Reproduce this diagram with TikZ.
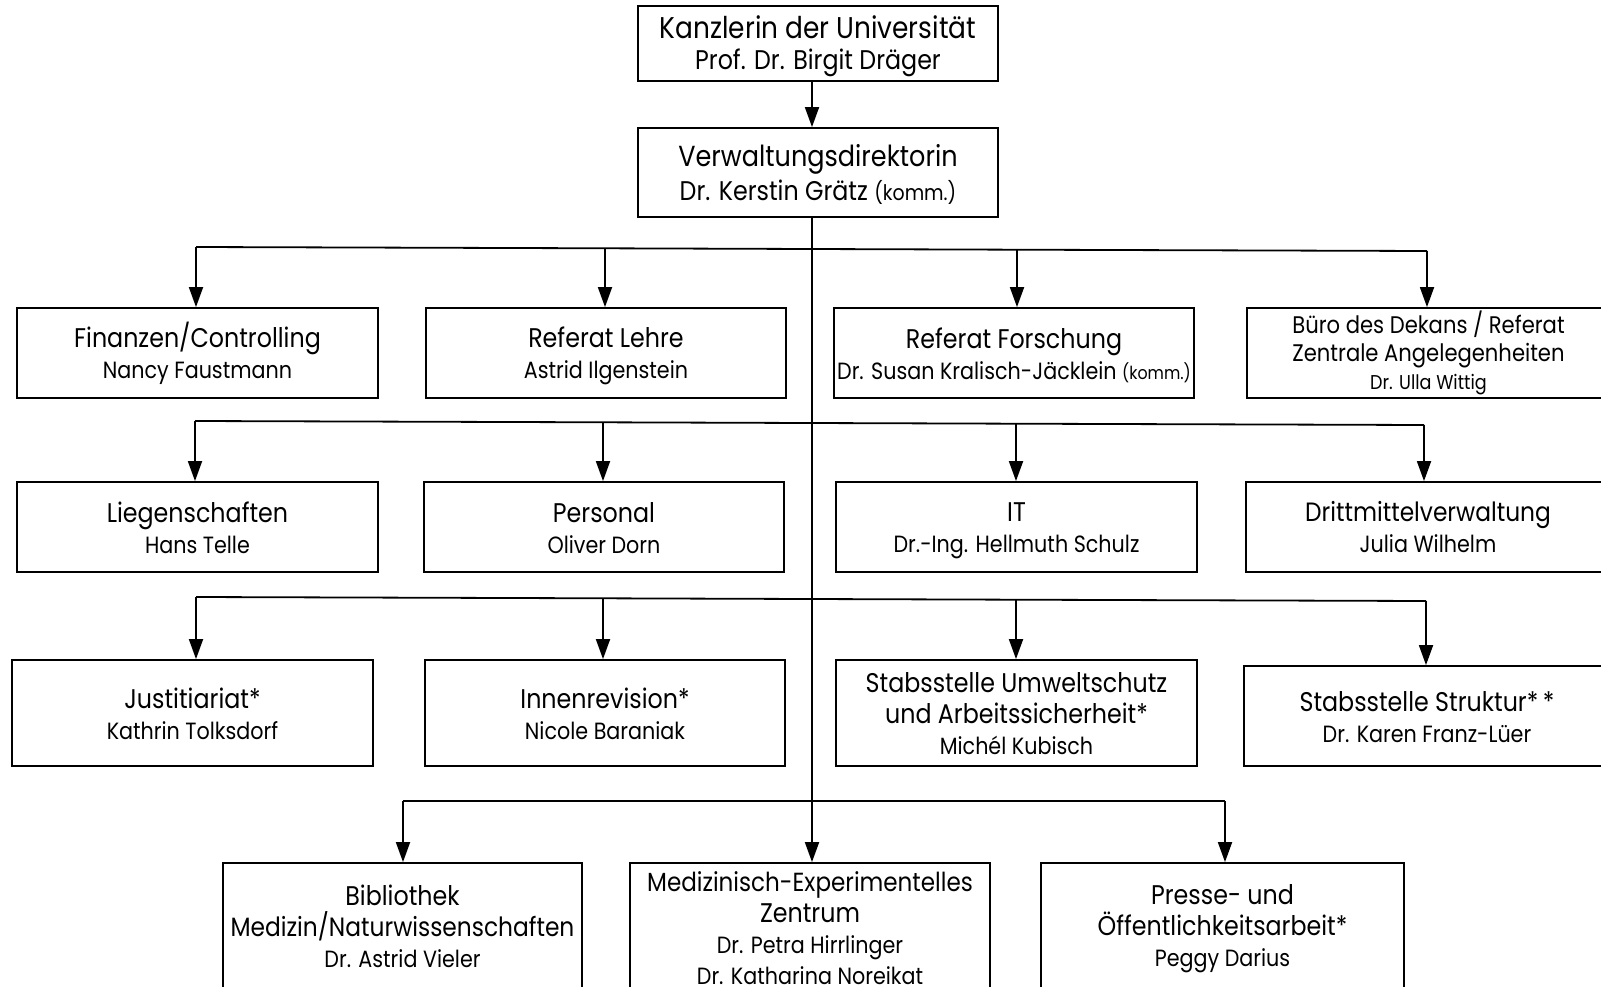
\documentclass[tikz,border=0pt]{standalone}
\usepackage{fontspec}
\setmainfont[FakeStretch=0.88]{Poppins}
\usetikzlibrary{arrows.meta}
\newcommand\fsA{\fontsize{30}{31}\selectfont}
\newcommand\fsB{\fontsize{27}{31}\selectfont}
\newcommand\fsC{\fontsize{23.5}{31}\selectfont}
\newcommand\fsD{\fontsize{18}{31}\selectfont}
\newcommand\ph{\vphantom{/}}
\begin{document}
\begin{tikzpicture}[x=1pt,y=-1pt,
  box/.style={draw, line width=1.8pt, rectangle, inner sep=0pt, align=center, font=\fsC},
  bus/.style={line width=1.8pt},
  arr/.style={line width=1.8pt, -{Triangle[length=20pt,width=14pt]}}]
\useasboundingbox (0,0) rectangle (1601,987);
\coordinate (main) at (812,0);
% top
\node[box, minimum width=360pt, minimum height=75pt] (k) at (818,43.5) {{\fsA\ph Kanzlerin der Universität}\\{\fsB\ph Prof. Dr. Birgit Dräger}};
\node[box, minimum width=360pt, minimum height=89pt] (vd) at (818,172.5) {{\fontsize{29}{31}\selectfont\ph Verwaltungsdirektorin}\\{\fsB\ph Dr. Kerstin Grätz {\fontsize{21.5}{31}\selectfont(komm.)}}};
% row 1
\node[box, minimum width=361pt, minimum height=90pt] (f1) at (197.5,353) {{\fsB\ph Finanzen/Controlling}\\\ph Nancy Faustmann};
\node[box, minimum width=360pt, minimum height=90pt] (f2) at (606,353) {{\fsB\ph Referat Lehre}\\\ph Astrid Ilgenstein};
\node[box, minimum width=360pt, minimum height=90pt] (f3) at (1014,353) {{\fsB\ph Referat Forschung}\\\ph Dr. Susan Kralisch-Jäcklein {\fsD(komm.)}};
\node[box, minimum width=363pt, minimum height=90pt, font=\fontsize{20}{28}\selectfont] (f4) at (1428.5,353) {{\fontsize{24}{28}\selectfont\ph Büro des Dekans / Referat}\\{\fontsize{24}{28}\selectfont Zentrale Angelegenheiten}\\\ph Dr. Ulla Wittig};
% row 2
\node[box, minimum width=361pt, minimum height=90pt] (g1) at (197.5,527) {{\fsB\ph Liegenschaften}\\\ph Hans Telle};
\node[box, minimum width=360pt, minimum height=90pt] (g2) at (604,527) {{\fsB\ph Personal}\\\ph Oliver Dorn};
\node[box, minimum width=361pt, minimum height=90pt] (g3) at (1016.5,527) {{\fsB\ph IT}\\\ph Dr.-Ing. Hellmuth Schulz};
\node[box, minimum width=364pt, minimum height=90pt] (g4) at (1428,527) {{\fontsize{26.5}{31}\selectfont\ph Drittmittelverwaltung}\\\ph Julia Wilhelm};
% row 3
\node[box, minimum width=361pt, minimum height=106pt] (h1) at (192.5,713) {{\fsB\ph Justitiariat*}\\\ph Kathrin Tolksdorf};
\node[box, minimum width=360pt, minimum height=106pt] (h2) at (605,713) {{\fsB\ph Innenrevision*}\\\ph Nicole Baraniak};
\node[box, minimum width=361pt, minimum height=106pt] (h3) at (1016.5,713) {{\fsB\ph Stabsstelle Umweltschutz}\\{\fsB und Arbeitssicherheit*}\\\ph Michél Kubisch};
\node[box, minimum width=366pt, minimum height=100pt] (h4) at (1427,716) {{\fsB\ph Stabsstelle Struktur*\,*}\\\ph Dr. Karen Franz-Lüer};
% row 4
\node[box, minimum width=359pt, minimum height=126pt] (m1) at (402.5,926) {{\fsB\ph Bibliothek}\\{\fontsize{26.5}{31}\selectfont Medizin/Naturwissenschaften}\\\ph Dr. Astrid Vieler};
\node[box, minimum width=360pt, minimum height=130pt] (m2) at (810,928) {{\fontsize{26.2}{31}\selectfont\ph Medizinisch-Experimentelles}\\{\fsB Zentrum}\\Dr. Petra Hirrlinger\\\ph Dr. Katharina Noreikat};
\node[box, minimum width=363pt, minimum height=126pt] (m3) at (1222.5,926) {{\fsB\ph Presse- und}\\{\fsB Öffentlichkeitsarbeit*}\\\ph Peggy Darius};
% bus coordinates
\coordinate (a1) at (196,247);
\coordinate (a2) at (605,248.3);
\coordinate (a3) at (1017,249.7);
\coordinate (a4) at (1427,251);
\coordinate (b1) at (195,421);
\coordinate (b2) at (603,422.3);
\coordinate (b3) at (1016,423.7);
\coordinate (b4) at (1424,425);
\coordinate (c1) at (196,597);
\coordinate (c2) at (603,598.3);
\coordinate (c3) at (1016,599.7);
\coordinate (c4) at (1426,601);
\coordinate (d1) at (403,801);
\coordinate (d3) at (1225,801);
% connectors
\draw[arr] (k.south -| main) -- (vd.north -| main);
\draw[arr] (vd.south -| main) -- (m2.north -| main);
\draw[bus] (a1) -- (a2) -- (a3) -- (a4);
\draw[bus] (b1) -- (b2) -- (b3) -- (b4);
\draw[bus] (c1) -- (c2) -- (c3) -- (c4);
\draw[bus] (d1) -- (d3);
\draw[arr] (a1) -- (a1 |- f1.north);
\draw[arr] (a2) -- (a2 |- f2.north);
\draw[arr] (a3) -- (a3 |- f3.north);
\draw[arr] (a4) -- (a4 |- f4.north);
\draw[arr] (b1) -- (b1 |- g1.north);
\draw[arr] (b2) -- (b2 |- g2.north);
\draw[arr] (b3) -- (b3 |- g3.north);
\draw[arr] (b4) -- (b4 |- g4.north);
\draw[arr] (c1) -- (c1 |- h1.north);
\draw[arr] (c2) -- (c2 |- h2.north);
\draw[arr] (c3) -- (c3 |- h3.north);
\draw[arr] (c4) -- (c4 |- h4.north);
\draw[arr] (d1) -- (d1 |- m1.north);
\draw[arr] (d3) -- (d3 |- m3.north);
\end{tikzpicture}
\end{document}
